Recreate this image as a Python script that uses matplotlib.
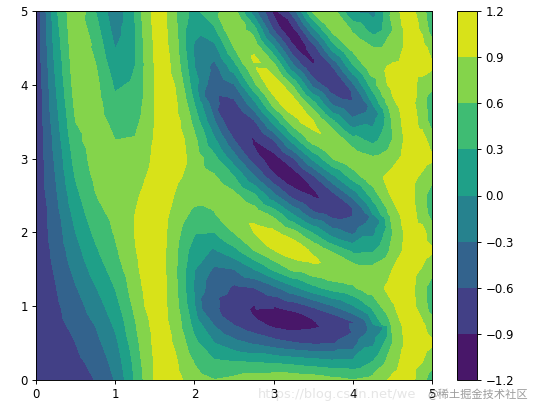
import matplotlib
matplotlib.use("Agg")
import matplotlib.pyplot as plt
import matplotlib.tri as mtri
import numpy as np

W, H = 540, 411
DPI = 85

x_values = [0.25 * i for i in range(21)]
y_values = [0.25 * i for i in range(21)]
levels = [-1.2, -0.9, -0.6, -0.3, 0.0, 0.3, 0.6, 0.9, 1.2]

# One list per x position, going up in y
z_by_x = [
 [-.84]*21,
 [-.81,-.78,-.74,-.70,-.66,-.61,-.56,-.51,-.46,-.41,-.35,-.29,-.24,-.18,-.12,-.06,.00,.06,.12,.18,.24],
 [-.74,-.67,-.60,-.51,-.42,-.32,-.21,-.11,.00,.11,.22,.32,.42,.52,.60,.68,.74,.79,.83,.86,.88],
 [-.59,-.51,-.40,-.29,-.16,-.02,.12,.25,.37,.49,.59,.66,.72,.75,.75,.73,.69,.62,.53,.42,.30],
 [-.28,-.19,-.08,.05,.18,.31,.44,.55,.63,.69,.72,.71,.67,.60,.50,.38,.25,.12,-.01,-.13,-.23],
 [.33,.39,.48,.57,.67,.76,.83,.88,.91,.90,.86,.79,.71,.62,.52,.43,.35,.30,.28,.29,.32],
 [.92,.93,.96,.98,1.01,1.03,1.04,1.05,1.04,1.02,1.00,.98,.95,.93,.91,.90,.91,.92,.94,.96,.99],
 [1.00,.95,.87,.80,.73,.69,.67,.69,.75,.82,.89,.96,1.01,1.03,1.01,.97,.90,.82,.75,.70,.67],
 [.73,.58,.38,.19,.03,-.03,.01,.14,.33,.53,.70,.79,.78,.68,.50,.29,.11,-.00,-.03,.05,.22],
 [.61,.34,.00,-.32,-.52,-.53,-.35,-.04,.30,.58,.71,.64,.40,.06,-.27,-.50,-.54,-.40,-.11,.25,.54],
 [.68,.30,-.20,-.61,-.79,-.67,-.30,.20,.61,.80,.69,.32,-.17,-.59,-.79,-.69,-.32,.17,.60,.80,.71],
 [.78,.28,-.34,-.81,-.91,-.60,-.01,.58,.90,.82,.36,-.26,-.76,-.92,-.66,-.10,.51,.88,.86,.44,-.17],
 [.83,.24,-.48,-.94,-.90,-.37,.35,.89,.95,.50,-.22,-.82,-.98,-.61,.08,.73,.99,.72,.06,-.63,-.98],
 [.83,.18,-.58,-.99,-.77,-.07,.67,.99,.70,-.03,-.74,-.99,-.62,.14,.81,.98,.53,-.25,-.87,-.95,-.44],
 [.79,.11,-.64,-.93,-.56,.22,.84,.86,.26,-.53,-.93,-.67,.07,.77,.91,.39,-.40,-.90,-.76,-.07,.67],
 [.69,.05,-.63,-.79,-.31,.43,.82,.54,-.18,-.75,-.71,-.08,.61,.81,.35,-.39,-.81,-.57,.14,.74,.73],
 [.61,.06,-.49,-.53,-.03,.56,.69,.24,-.37,-.59,-.20,.42,.72,.41,-.22,-.59,-.36,.25,.69,.55,-.04],
 [.70,.30,-.07,-.03,.38,.74,.68,.26,-.09,-.01,.42,.75,.65,.22,-.10,.02,.46,.77,.62,.18,-.11],
 [.97,.77,.60,.65,.87,1.01,.90,.68,.59,.74,.95,.99,.81,.61,.62,.83,1.00,.94,.71,.59,.70],
 [.96,1.00,1.03,1.01,.97,.96,.99,1.03,1.02,.98,.95,.97,1.02,1.03,1.00,.96,.96,1.01,1.03,1.01,.97],
 [.42,.73,.94,.77,.44,.41,.72,.94,.77,.45,.41,.71,.94,.78,.45,.41,.70,.94,.79,.46,.40],
]

# Extra columns where the yellow strips have wavy edges
extra_column_x = [1.375, 1.625, 1.875, 4.375, 4.625, 4.875]
extra_columns = [
 [.66,.71,.77,.83,.90,.95,1.00,1.02,1.02,.99,.95,.89,.83,.76,.70,.66,.63,.63,.65,.69,.75],
 [1.03,1.02,.99,.97,.95,.94,.93,.93,.94,.96,.98,1.00,1.02,1.03,1.04,1.03,1.02,1.00,.98,.96,.94],
 [.88,.78,.64,.51,.40,.34,.34,.40,.51,.65,.78,.88,.93,.90,.82,.70,.56,.44,.35,.33,.37],
 [.84,.53,.25,.31,.64,.88,.77,.44,.23,.38,.72,.89,.70,.36,.23,.46,.80,.87,.61,.29,.26],
 [1.04,.95,.88,.91,1.00,1.05,.99,.90,.88,.96,1.04,1.03,.94,.88,.92,1.01,1.05,.98,.89,.89,.97],
 [.74,.91,1.04,.95,.77,.73,.88,1.03,.98,.79,.72,.85,1.02,1.00,.82,.72,.82,1.00,1.02,.85,.72],
]

# Extra samples along the narrow bands: x, band centre y, z beside the band, z at centre
band_1_low = [
 [2.25,1.14,-.484,-.547],[2.5,1.03,-.715,-.795],[2.625,.98,-.781,-.868],[2.75,.93,-.832,-.924],
 [2.875,.89,-.868,-.964],[3,.86,-.891,-.99],[3.125,.82,-.90,-1.0],[3.25,.79,-.895,-.994],
 [3.375,.76,-.875,-.972],[3.5,.73,-.842,-.936],[3.625,.71,-.796,-.885],[3.75,.68,-.735,-.817],
 [3.875,.66,-.652,-.726],[4,.64,-.527,-.592],[4.25,.60,-.071,-.116],
]
band_2_high = [
 [2.25,2.54,.646,.709],[2.5,2.28,.727,.807],[2.625,2.17,.783,.870],[2.75,2.08,.832,.924],
 [2.875,1.99,.868,.964],[3,1.90,.891,.99],[3.125,1.83,.90,1.0],[3.25,1.76,.895,.994],
 [3.375,1.69,.875,.972],[3.5,1.63,.842,.936],[3.625,1.57,.797,.886],[3.75,1.52,.743,.825],
 [3.875,1.47,.688,.762],[4,1.43,.651,.716],[4.25,1.34,.731,.776],
]
band_3_low = [
 [2.25,3.93,-.484,-.547],[2.375,3.73,-.621,-.693],[2.5,3.54,-.715,-.795],[2.625,3.37,-.781,-.868],
 [2.75,3.22,-.832,-.924],[2.875,3.08,-.868,-.964],[3,2.95,-.891,-.99],[3.125,2.83,-.90,-1.0],
 [3.25,2.72,-.895,-.994],[3.375,2.62,-.875,-.972],[3.5,2.53,-.842,-.936],[3.625,2.44,-.796,-.885],
 [3.75,2.36,-.735,-.817],[3.875,2.28,-.652,-.726],[4,2.21,-.527,-.592],[4.125,2.15,-.343,-.399],
 [4.25,2.08,-.071,-.116],
]
band_4_high = [
 [2.5,4.80,.727,.807],[2.625,4.57,.783,.870],[2.75,4.36,.832,.924],[2.875,4.17,.868,.964],
 [3,4.00,.891,.99],[3.125,3.84,.90,1.0],[3.25,3.69,.895,.994],[3.375,3.55,.875,.972],
 [3.5,3.43,.842,.936],[3.625,3.31,.797,.886],[3.75,3.20,.743,.825],[3.875,3.09,.688,.762],
 [4,3.00,.651,.716],[4.125,2.91,.657,.713],[4.25,2.82,.731,.776],
]
band_5_low = [
 [3.125,4.84,-.90,-1.0],[3.25,4.66,-.895,-.994],[3.375,4.48,-.875,-.972],[3.5,4.32,-.842,-.936],
 [3.625,4.17,-.796,-.885],[3.75,4.04,-.735,-.817],[3.875,3.91,-.652,-.726],[4,3.78,-.527,-.592],
 [4.125,3.67,-.343,-.399],[4.25,3.56,-.071,-.116],
]
band_6_high = [
 [3.75,4.87,.743,.825],[3.875,4.72,.688,.762],[4,4.57,.651,.716],[4.125,4.43,.657,.713],
 [4.25,4.30,.731,.776],
]
bands = [band_1_low, band_2_high, band_3_low, band_4_high, band_5_low, band_6_high]
band_side_offsets = [.115, .09, .075, .065, .055, .05]

grid_x, grid_y = np.meshgrid(x_values, y_values, indexing="ij")
all_x = list(grid_x.ravel())
all_y = list(grid_y.ravel())
all_z = list(np.array(z_by_x).ravel())
for x, column in zip(extra_column_x, extra_columns):
    all_x += [x] * len(y_values)
    all_y += y_values
    all_z += column
for band, d in zip(bands, band_side_offsets):
    for x, y, z_side, z_mid in band:
        all_x += [x - d, x, x + d]
        all_y += [y - d, y, y + d]
        all_z += [z_side, z_mid, z_side]

fig = plt.figure(figsize=(W / DPI, H / DPI), dpi=DPI)
ax = fig.add_axes([36 / W, 1 - 380 / H, (432 - 36) / W, (380 - 11) / H])
cax = fig.add_axes([457 / W, 1 - 380 / H, (477 - 457) / W, (380 - 11) / H])

triangles = mtri.Triangulation(all_x, all_y)
cs = ax.tricontourf(triangles, all_z, levels=levels, cmap="viridis")
ax.set_xlim(0, 5)
ax.set_ylim(0, 5)
ax.set_xticks(range(6))
ax.set_yticks(range(6))
fig.colorbar(cs, cax=cax, ticks=levels)

fig.text(258 / W, 1 - 398 / H, "https://blog.csdn.net/we", color="#999999", alpha=0.25, fontsize=11)
fig.text(427 / W, 1 - 398 / H, "@稀土掘金技术社区", color="#8a8a8a", alpha=0.85, fontsize=9.5,
         family=["Noto Sans CJK SC", "DejaVu Sans"])

fig.savefig("out.png", dpi=DPI)
